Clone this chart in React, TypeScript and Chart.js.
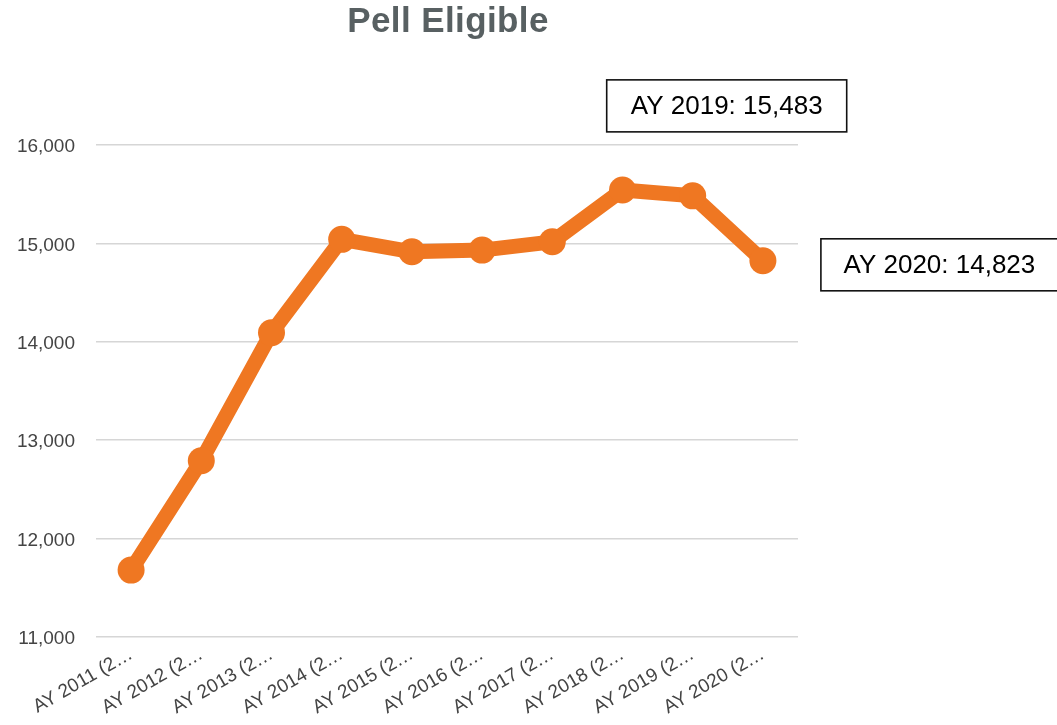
import React, { useEffect, useRef } from 'react';
import { Chart, registerables } from 'chart.js';

Chart.register(...registerables);

const chartTitle = 'Pell Eligible';
const categories = [
  'AY 2011 (2…',
  'AY 2012 (2…',
  'AY 2013 (2…',
  'AY 2014 (2…',
  'AY 2015 (2…',
  'AY 2016 (2…',
  'AY 2017 (2…',
  'AY 2018 (2…',
  'AY 2019 (2…',
  'AY 2020 (2…',
];
const pellEligible = [11680, 12791, 14092, 15041, 14915, 14932, 15016, 15542, 15483, 14823];
const yMin = 11000;
const yMax = 16000;
const yStep = 1000;
const callout2019 = 'AY 2019: 15,483';
const callout2020 = 'AY 2020: 14,823';

const FONT = '"Liberation Sans", Arial, Helvetica, sans-serif';

const overlayPlugin = {
  id: 'overlay',
  afterDraw(chart: any) {
    const ctx = chart.ctx as CanvasRenderingContext2D;
    const ca = chart.chartArea;
    const meta = chart.getDatasetMeta(0);
    ctx.save();
    // title
    ctx.font = `bold 35px ${FONT}`;
    (ctx as any).letterSpacing = '0.4px';
    ctx.fillStyle = '#586062';
    ctx.textAlign = 'center';
    ctx.textBaseline = 'alphabetic';
    ctx.fillText(chartTitle, (ca.left + ca.right) / 2 + 1, 32);
    (ctx as any).letterSpacing = '0px';

    const drawBox = (x: number, y: number, w: number, h: number, text: string) => {
      ctx.fillStyle = '#ffffff';
      ctx.fillRect(x, y, w, h);
      ctx.strokeStyle = '#111111';
      ctx.lineWidth = 1.6;
      ctx.strokeRect(x, y, w, h);
      ctx.fillStyle = '#000000';
      ctx.font = `26px ${FONT}`;
      ctx.textAlign = 'center';
      ctx.textBaseline = 'middle';
      ctx.fillText(text, x + w / 2, y + h / 2 + 1);
    };

    const p19 = meta.data[8];
    const p20 = meta.data[9];
    if (p19) {
      const w = 240, h = 52;
      drawBox(p19.x + 34 - w / 2, p19.y - 64 - h, w, h, callout2019);
    }
    if (p20) {
      const w = 237, h = 52;
      drawBox(p20.x + 58, p20.y + 4 - h / 2, w, h, callout2020);
    }
    ctx.restore();
  },
};

export default function App() {
  const canvasRef = useRef<HTMLCanvasElement | null>(null);

  useEffect(() => {
    const canvas = canvasRef.current;
    if (!canvas) return;
    const chart = new Chart(canvas, {
      type: 'line',
      data: {
        labels: categories,
        datasets: [
          {
            label: chartTitle,
            data: pellEligible,
            borderColor: '#ef7722',
            backgroundColor: '#ef7722',
            borderWidth: 15,
            pointRadius: 13.5,
            pointBorderWidth: 0,
            pointBackgroundColor: '#ef7722',
            tension: 0,
            fill: false,
          },
        ],
      },
      options: {
        responsive: false,
        animation: false,
        devicePixelRatio: 1,
        layout: { padding: { left: 0, right: 259, top: 145, bottom: 0 } },
        plugins: {
          legend: { display: false },
          title: { display: false },
          tooltip: { enabled: false },
        },
        scales: {
          x: {
            offset: true,
            grid: { display: false, drawTicks: false },
            border: { display: false },
            afterFit: (scale: any) => {
              scale.height = 88;
            },
            ticks: {
              autoSkip: false,
              maxRotation: 30,
              minRotation: 30,
              padding: 6,
              color: '#444444',
              font: { family: FONT, size: 19 },
            },
          },
          y: {
            min: yMin,
            max: yMax,
            grid: { color: '#d6d6d6', lineWidth: 1.5, drawTicks: false },
            border: { display: false },
            afterFit: (scale: any) => {
              scale.width = 96;
            },
            ticks: {
              stepSize: yStep,
              padding: 21,
              labelOffset: 2,
              color: '#444444',
              font: { family: FONT, size: 19 },
              callback: (v: any) => Number(v).toLocaleString('en-US'),
            },
          },
        },
      },
      plugins: [overlayPlugin],
    });
    return () => chart.destroy();
  }, []);

  return (
    <div style={{ position: 'fixed', left: 0, top: 0, width: 1057, height: 725, background: '#fff' }}>
      <canvas ref={canvasRef} width={1057} height={725} style={{ display: 'block' }} />
    </div>
  );
}
